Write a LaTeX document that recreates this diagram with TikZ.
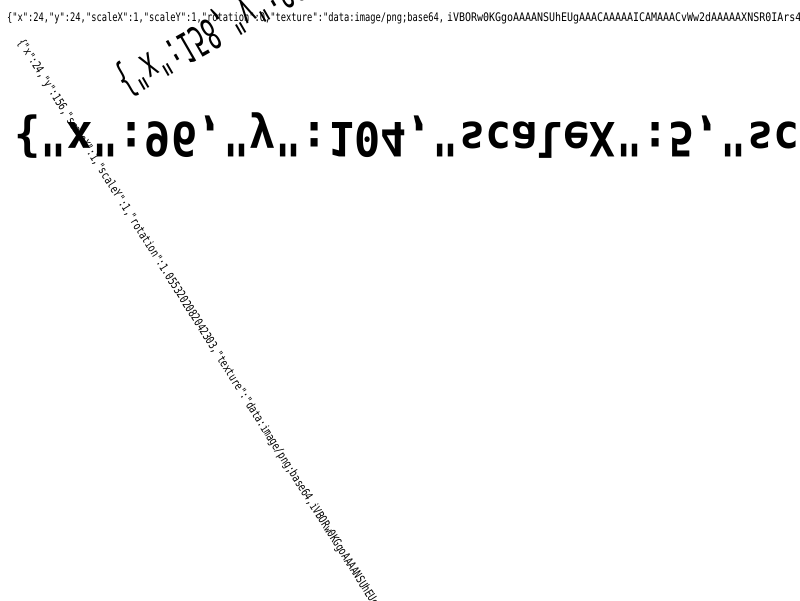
\documentclass[tikz,border=0pt]{standalone}
\usepackage{fontspec}
\newfontfamily\pix{DejaVu Sans Mono}
\begin{document}
\begin{tikzpicture}[x=1pt,y=-1pt,
  txt/.style={inner sep=0pt, outer sep=0pt, text=black, font=\pix\fontsize{8.75}{10}\selectfont}]
\useasboundingbox (0,0) rectangle (800,600);
\fill[white] (0,0) rectangle (800,600);
\clip (0,0) rectangle (800,600);
% item 1: plain line at the top
\node[txt, anchor=base west, yscale=1.35] (t1a) at (7,21)
  {\{"x":24,"y":24,"scaleX":1,"scaleY":1,"rotation":0,"texture":"data:image/png;base64,};
\node[txt, anchor=base west, xscale=1.14, yscale=1.35] (t1b) at (447,21)
  {iVBORw0KGgoAAAANSUhEUgAAACAAAAAICAMAAACvWw2dAAAAAXNSR0IArs4c6QAAAA};
% item 2: long rotated line
\node[txt, anchor=base west, rotate=-57.8, xscale=1.03, yscale=1.35] (t2) at (17.3,42.4)
  {\{"x":24,"y":156,"scaleX":1,"scaleY":1,"rotation":1.0553202082042303,"texture":"data:image/png;base64,iVBORw0KGgoAAAANSUhEUgAAACAAAAAICAMAAACv};
% item 3: sheared, flipped line
\node[txt, anchor=base west, cm={2.3,1.29,2.43,-4.21,(0,0)}] (t3) at (113,72)
  {\{"x":158,"y":88,"scaleX":3,"scaleY":-4,"rotation":-0.5};
% item 4: big flipped line
\node[txt, anchor=base west, xscale=4.97, yscale=-5.4, font=\pix\bfseries\fontsize{8.75}{10}\selectfont] (t4) at (14,122)
  {\{"x":96,"y":104,"scaleX":5,"scaleY":-4,"rotation":0};
\end{tikzpicture}
\end{document}
